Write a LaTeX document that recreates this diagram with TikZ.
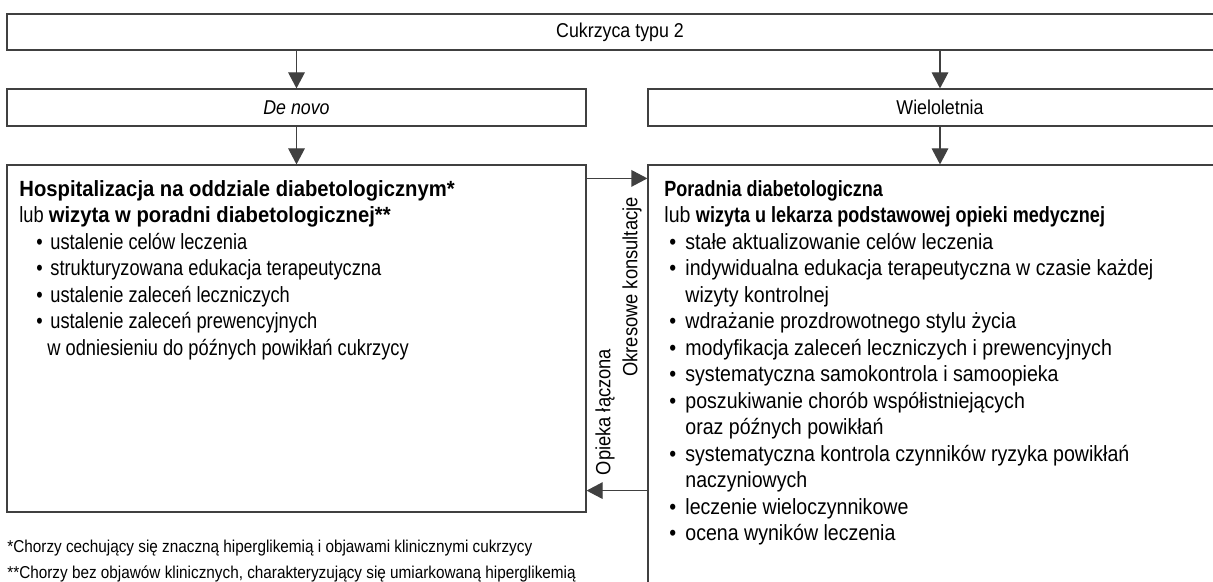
\documentclass[tikz,border=0pt]{standalone}
\usepackage{fontspec}
\setmainfont{Liberation Sans}[FakeStretch=0.89, BoldFeatures={FakeStretch=0.82}]
\newfontfamily\lewa{Liberation Sans}[FakeStretch=0.83, BoldFeatures={FakeStretch=0.92}]
\usepackage{tikz}
\usetikzlibrary{arrows.meta,positioning,calc}

\newcommand{\lpkt}{\hspace*{8.5pt}\makebox[7pt][l]{\textbullet}}
\newcommand{\ppkt}{\hspace*{2.5pt}\makebox[8pt][l]{\textbullet}}

\begin{document}
\begin{tikzpicture}[
    x=0.5pt, y=-0.5pt,
    box/.style={rectangle, draw=black!75, line width=0.6pt, inner sep=0pt, font=\fontsize{10}{12}\selectfont},
    txt/.style={anchor=north west, align=left, inner sep=0pt, font=\fontsize{11}{13.25}\selectfont},
    note/.style={anchor=north west, align=left, inner sep=0pt, font=\fontsize{8.6}{13}\selectfont},
    side/.style={rotate=90, inner sep=0pt, font=\fontsize{10.3}{12}\selectfont},
    arrow/.style={-{Triangle[length=8pt, width=8.3pt]}, draw=black!75, line width=0.6pt}
]
    \useasboundingbox (0,0) rectangle (1213,582);
    \clip (0,0) rectangle (1213,582);

    \node[box, minimum width=613pt, minimum height=18pt] (cukrzyca) at (620,32) {Cukrzyca typu 2};
    \node[box, minimum width=289.5pt, minimum height=18.5pt] (denovo) at (296.5,107.5) {\textit{De novo}};
    \node[box, minimum width=292pt, minimum height=18.5pt] (wielo) at (940,107.5) {Wieloletnia};
    \node[box, minimum width=289.5pt, minimum height=173.5pt] (szpital) at (296.5,338.5) {};
    \node[box, minimum width=292pt, minimum height=227.5pt] (poradnia) at (940,392.5) {};

    \node[txt, font=\lewa\fontsize{11}{13.25}\selectfont] (szpitaltxt) at (19,180) {%
        \textbf{Hospitalizacja na oddziale diabetologicznym*}\\
        lub \textbf{wizyta w poradni diabetologicznej**}\\
        \lpkt ustalenie celów leczenia\\
        \lpkt strukturyzowana edukacja terapeutyczna\\
        \lpkt ustalenie zaleceń leczniczych\\
        \lpkt ustalenie zaleceń prewencyjnych\\
        \hspace*{14pt}w odniesieniu do późnych powikłań cukrzycy};
    \node[txt] (poradniatxt) at (664,180) {%
        \textbf{Poradnia diabetologiczna}\\
        lub \textbf{wizyta u lekarza podstawowej opieki medycznej}\\
        \ppkt stałe aktualizowanie celów leczenia\\
        \ppkt indywidualna edukacja terapeutyczna w czasie każdej\\
        \hspace*{10.5pt}wizyty kontrolnej\\
        \ppkt wdrażanie prozdrowotnego stylu życia\\
        \ppkt modyfikacja zaleceń leczniczych i prewencyjnych\\
        \ppkt systematyczna samokontrola i samoopieka\\
        \ppkt poszukiwanie chorób współistniejących\\
        \hspace*{10.5pt}oraz późnych powikłań\\
        \ppkt systematyczna kontrola czynników ryzyka powikłań\\
        \hspace*{10.5pt}naczyniowych\\
        \ppkt leczenie wieloczynnikowe\\
        \ppkt ocena wyników leczenia};

    \node[note] (przypisy) at (7,540) {%
        *Chorzy cechujący się znaczną hiperglikemią i objawami klinicznymi cukrzycy\\
        **Chorzy bez objawów klinicznych, charakteryzujący się umiarkowaną hiperglikemią};

    \node[side] (okresowe) at (632,287) {Okresowe konsultacje};
    \node[side] (opieka) at (605,412) {Opieka łączona};

    \coordinate (konsultacje) at ($(szpital.north east)+(0,14)$);
    \coordinate (laczona) at ($(szpital.south east)+(0,-22)$);

    \draw[arrow] (cukrzyca.south -| denovo) -- (denovo.north);
    \draw[arrow] (cukrzyca.south -| wielo) -- (wielo.north);
    \draw[arrow] (denovo) -- (szpital);
    \draw[arrow] (wielo) -- (poradnia.north);
    \draw[arrow] (konsultacje) -- (konsultacje -| poradnia.west);
    \draw[arrow] (laczona -| poradnia.west) -- (laczona);
\end{tikzpicture}
\end{document}
